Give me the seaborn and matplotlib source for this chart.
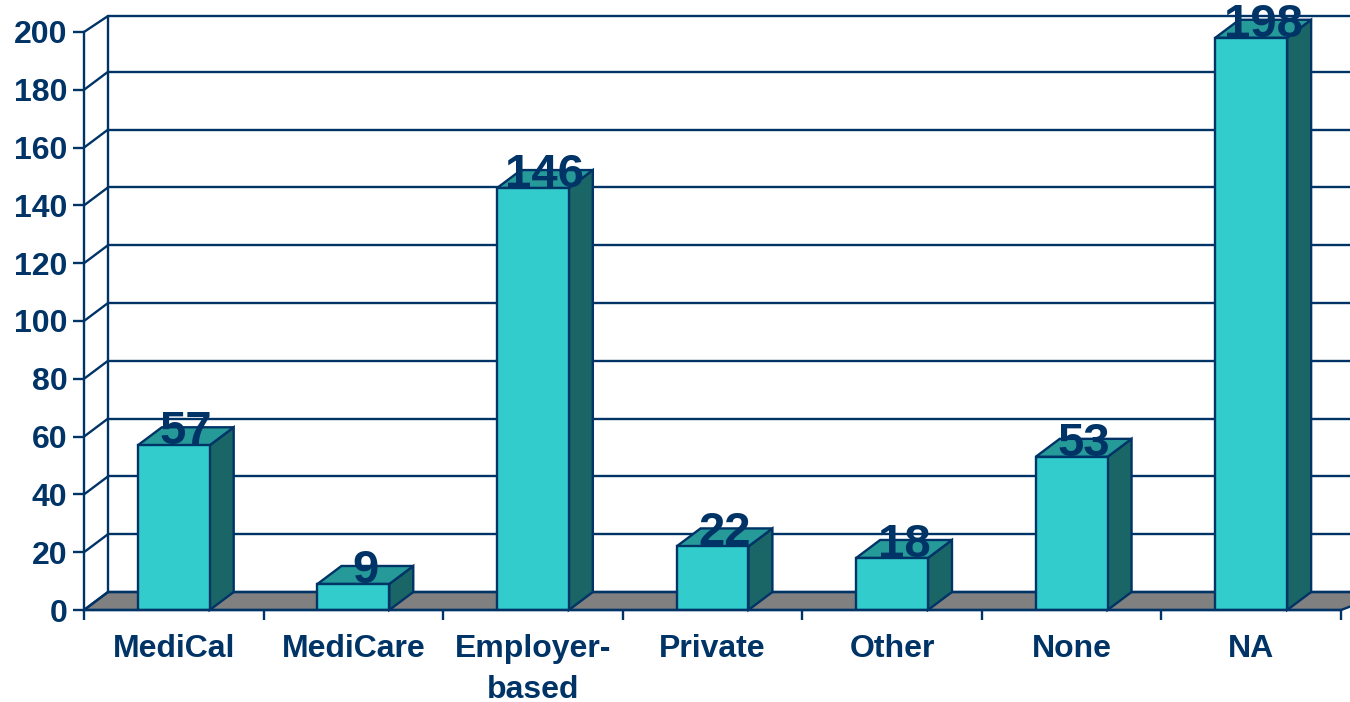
import pandas as pd
import numpy as np
import matplotlib.pyplot as plt
import seaborn as sns

# Data
categories = ["MediCal", "MediCare", "Employer-\nbased", "Private", "Other", "None", "NA"]
counts = [57, 9, 146, 22, 18, 53, 198]
y_ticks = list(range(0, 201, 20))

# Colours
front_color = "#33CCCC"
side_color = "#1A6666"
top_color = "#269999"
floor_color = "#808080"
line_color = "#003366"
lw = 1.7

sns.set_style("white")
plt.rcParams['font.family'] = ['Liberation Sans', 'DejaVu Sans']
plt.rcParams['font.weight'] = 'bold'

W, H = 1350, 702
fig = plt.figure(figsize=(W / 100, H / 100), dpi=100)
ax = fig.add_axes([84 / W, 1 - 610 / H, 1257 / W, 578 / H])
ax.patch.set_alpha(0)

df = pd.DataFrame({"category": categories, "count": counts})
sns.barplot(data=df, x="category", y="count", color=front_color, saturation=1,
            width=0.4, edgecolor=line_color, linewidth=lw, ax=ax, zorder=5)

ax.set_xlim(-0.5, 6.5)
ax.set_ylim(0, 200)

# Depth of the fake 3D box, in data units (24 px right, 18 px up)
dx = 24 / (1257 / 7)
dy = 18 / (578 / 200)
right_end = 6.5 + 2 * dx
# the top of the back wall sits a little lower than the scale gives
wall_top = 200 + dy - 2 / (578 / 200)

# Floor
ax.fill([-0.5, -0.5 + dx, right_end, 6.5], [0, dy, dy, 0], facecolor=floor_color,
        edgecolor=line_color, linewidth=lw, clip_on=False, zorder=1)

# Back wall grid, connectors from the front axis
for t in y_ticks:
    back = min(t + dy, wall_top)
    ax.plot([-0.5 + dx, right_end], [back, back], color=line_color, lw=lw,
            clip_on=False, zorder=2)
    ax.plot([-0.5, -0.5 + dx], [t, back], color=line_color, lw=lw,
            clip_on=False, zorder=2)
ax.plot([-0.5 + dx, -0.5 + dx], [dy, wall_top], color=line_color, lw=lw,
        clip_on=False, zorder=2)

# Side and top faces of the bars
for bar, value in zip(ax.patches, counts):
    x0 = bar.get_x()
    x1 = x0 + bar.get_width()
    h = bar.get_height()
    ax.fill([x1, x1 + dx, x1 + dx, x1], [0, dy, h + dy, h], facecolor=side_color,
            edgecolor=line_color, linewidth=lw, clip_on=False, zorder=4)
    ax.fill([x0, x0 + dx, x1 + dx, x1], [h, h + dy, h + dy, h], facecolor=top_color,
            edgecolor=line_color, linewidth=lw, clip_on=False, zorder=4)
    ax.text((x0 + x1) / 2 + dx / 2, h + 0.4, str(value), ha="center", va="baseline",
            fontsize=34, fontweight="bold", color=line_color, clip_on=False, zorder=6)

# Axes
sns.despine(ax=ax, top=True, right=True)
for side in ["left", "bottom"]:
    ax.spines[side].set_color(line_color)
    ax.spines[side].set_linewidth(lw)
    ax.spines[side].set_zorder(6)

ax.set_xlabel("")
ax.set_ylabel("")
ax.set_yticks(y_ticks)
ax.set_xticks(np.arange(-0.5, 7, 1), minor=True)
ax.set_xticks(np.arange(7))
ax.set_xticklabels(categories, linespacing=1.47)
ax.tick_params(axis="y", left=True, length=8, width=lw, color=line_color,
               labelcolor=line_color, labelsize=23, pad=4)
ax.tick_params(axis="x", which="major", bottom=False, labelcolor=line_color,
               labelsize=23, pad=13.7)
ax.tick_params(axis="x", which="minor", bottom=True, length=7.5, width=lw,
               color=line_color)

fig.savefig("out.png", dpi=100)
